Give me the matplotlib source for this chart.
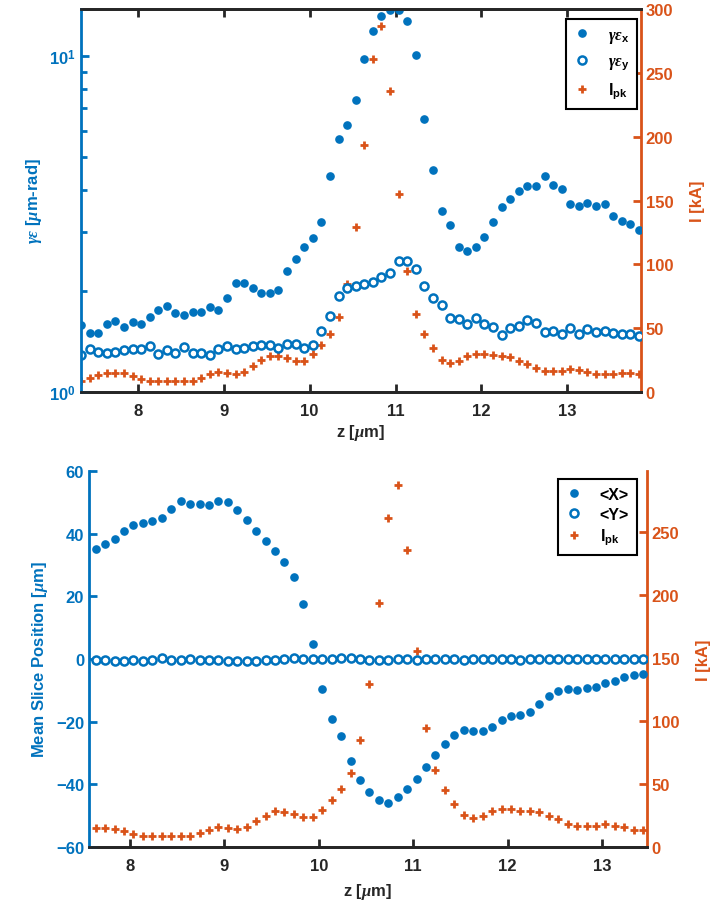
import numpy as np
import matplotlib.pyplot as plt
from matplotlib.ticker import FixedLocator, FixedFormatter, LogLocator, NullFormatter

plt.rcParams['font.family'] = ['Liberation Sans', 'DejaVu Sans']
plt.rcParams['font.weight'] = 'bold'
plt.rcParams['axes.labelweight'] = 'bold'
plt.rcParams['font.size'] = 12
plt.rcParams['mathtext.fontset'] = 'custom'
plt.rcParams['mathtext.rm'] = 'Liberation Sans:bold'
plt.rcParams['mathtext.bf'] = 'Liberation Sans:bold'
plt.rcParams['mathtext.it'] = 'Liberation Serif:italic'

blue = '#0072BD'
orange = '#D95319'
dark = '#262626'

# slice grid (um), 0.1 um spacing
z = 7.336 + 0.1 * np.arange(66)

# slice emittance (um-rad)
gex = [1.58, 1.50, 1.50, 1.59, 1.63, 1.56, 1.62, 1.60, 1.67, 1.76,
       1.80, 1.72, 1.70, 1.73, 1.73, 1.79, 1.75, 1.90, 2.11, 2.11,
       2.04, 1.97, 1.97, 2.01, 2.30, 2.49, 2.70, 2.87, 3.21, 4.39,
       5.69, 6.23, 7.41, 9.80, 11.9, 13.2, 13.8, 13.75, 12.8, 10.1,
       6.53, 4.58, 3.46, 3.14, 2.71, 2.63, 2.70, 2.90, 3.22, 3.55,
       3.76, 3.98, 4.10, 4.10, 4.39, 4.13, 4.04, 3.64, 3.59, 3.65,
       3.58, 3.64, 3.34, 3.24, 3.16, 3.03]
gey = [1.29, 1.34, 1.32, 1.31, 1.32, 1.33, 1.34, 1.34, 1.37, 1.30,
       1.33, 1.31, 1.36, 1.31, 1.31, 1.29, 1.34, 1.37, 1.34, 1.35,
       1.37, 1.38, 1.38, 1.35, 1.39, 1.39, 1.35, 1.38, 1.52, 1.68,
       1.93, 2.04, 2.07, 2.10, 2.13, 2.20, 2.27, 2.45, 2.46, 2.32,
       2.07, 1.90, 1.82, 1.66, 1.65, 1.60, 1.66, 1.59, 1.56, 1.48,
       1.55, 1.57, 1.64, 1.61, 1.51, 1.52, 1.49, 1.55, 1.49, 1.54,
       1.51, 1.52, 1.50, 1.49, 1.49, 1.47]

# peak current (kA)
ipk = [8.8, 10.7, 13.6, 15.1, 14.9, 14.6, 12.8, 10.2, 8.6, 8.6,
       8.6, 8.6, 8.6, 8.6, 11.0, 13.8, 15.7, 15.1, 14.4, 15.9,
       20.6, 24.8, 28.5, 27.9, 26.4, 24.0, 24.0, 29.5, 37.1, 45.7,
       58.5, 84.6, 129.2, 193.4, 260.5, 286.9, 235.4, 155.3, 94.5, 61.3,
       45.2, 34.2, 25.3, 23.0, 24.5, 28.5, 29.8, 29.8, 28.7, 28.5,
       27.4, 24.3, 22.2, 18.5, 16.7, 16.4, 16.4, 18.0, 17.0, 15.9,
       13.8, 13.8, 13.8, 14.6, 14.6, 14.1]

# centroid data only covers part of the bunch
z2 = z[3:62]
ipk2 = ipk[3:62]
xmean = [35.0, 36.8, 38.3, 40.8, 42.7, 43.5, 43.9, 45.0, 47.8, 50.4,
         49.6, 49.5, 49.3, 50.4, 50.2, 47.5, 44.3, 40.7, 37.6, 34.4,
         30.8, 26.2, 17.4, 4.7, -9.5, -19.1, -24.6, -32.4, -38.7, -42.6,
         -45.1, -45.8, -44.2, -41.4, -38.3, -34.6, -30.7, -27.2, -24.3, -22.5,
         -23.0, -23.0, -21.7, -19.6, -18.1, -17.9, -16.8, -14.3, -11.9, -10.3,
         -9.7, -9.8, -9.2, -8.8, -7.5, -7.0, -5.6, -5.2, -4.9]
ymean = [-0.4, -0.2, -0.5, -0.5, -0.2, -0.6, -0.3, 0.2, -0.4, -0.2,
         -0.1, -0.3, -0.2, -0.3, -0.5, -0.6, -0.5, -0.7, -0.4, -0.3,
         0.0, 0.2, -0.1, -0.1, -0.1, 0.1, 0.3, 0.2, -0.1, -0.2,
         -0.3, -0.2, -0.1, 0.0, -0.2, -0.1, 0.1, 0.0, -0.1, -0.2,
         -0.1, 0.0, 0.1, 0.0, -0.1, -0.2, -0.1, 0.0, 0.1, 0.0,
         -0.1, 0.0, 0.1, 0.0, -0.1, 0.0, 0.1, 0.0, 0.0]

fig = plt.figure(figsize=(7.15, 9.03), dpi=100)
ax1 = fig.add_axes([0.1133, 0.5648, 0.7832, 0.4241])
ax3 = fig.add_axes([0.1245, 0.0609, 0.7804, 0.4164])

dot = dict(ls='none', marker='o', ms=5.2, color=blue)
ring = dict(ls='none', marker='o', ms=5.8, mfc='white', mec=blue, mew=1.8)
plus = dict(ls='none', marker='+', ms=6, mew=2.0, color=orange)


def style(ax, axr, box):
    ax.tick_params(axis='x', direction='in', width=2, length=6, colors=dark,
                   top=box, labelsize=12, pad=8)
    ax.tick_params(axis='y', which='both', direction='in', width=2,
                   colors=blue, labelsize=12)
    axr.tick_params(axis='y', direction='in', width=2, length=6,
                    colors=orange, labelsize=12)
    for a in (ax, axr):
        a.spines['bottom'].set_color(dark)
        a.spines['top'].set_color(dark)
        for s in a.spines.values():
            s.set_linewidth(2)
        a.spines['top'].set_visible(box)
    ax.spines['left'].set_color(blue)
    ax.spines['right'].set_visible(False)
    axr.spines['left'].set_visible(False)
    axr.spines['right'].set_color(orange)
    ax.set_zorder(axr.get_zorder() + 1)
    ax.patch.set_visible(False)


def boxed_legend(ax, handles, labels, anchor, spacing):
    leg = ax.legend(handles, labels, loc='upper right', bbox_to_anchor=anchor,
                    borderaxespad=0, fancybox=False, edgecolor='black',
                    framealpha=1, handlelength=1.0, handletextpad=1.1,
                    borderpad=0.5, labelspacing=spacing, fontsize=11.5)
    leg.get_frame().set_linewidth(1.5)
    return leg


# emittance panel
ax2 = ax1.twinx()
h1, = ax1.plot(z, gex, **dot)
h2, = ax1.plot(z, gey, **ring)
h3, = ax2.plot(z, ipk, **plus)
ax1.set_yscale('log')
ax1.set_ylim(1, 13.85)
ax1.set_xlim(7.336, 13.86)
ax1.yaxis.set_major_locator(FixedLocator([1, 10]))
ax1.yaxis.set_major_formatter(FixedFormatter(['10$^0$', '10$^1$']))
ax1.yaxis.set_minor_locator(LogLocator(base=10, subs=np.arange(2, 10)))
ax1.yaxis.set_minor_formatter(NullFormatter())
ax1.tick_params(axis='y', which='major', length=6)
ax1.tick_params(axis='y', which='minor', length=4)
ax2.set_ylim(0, 300)
ax2.set_yticks(np.arange(0, 301, 50))
ax1.set_xticks(np.arange(8, 14))
style(ax1, ax2, True)
ax1.set_xlabel(r'z [$\mu$m]', color=dark, fontsize=12, labelpad=3)
ax1.set_ylabel(r'$\gamma\epsilon$ [$\mu$m-rad]', color=blue, fontsize=12)
ax2.set_ylabel('I [kA]', color=orange, fontsize=12, labelpad=12)
boxed_legend(ax1, [h1, h2, h3],
             [r'$\gamma\epsilon_\mathbf{x}$', r'$\gamma\epsilon_\mathbf{y}$',
              r'I$_\mathbf{pk}$'],
             (0.993, 0.974), 0.55)

# centroid panel
ax4 = ax3.twinx()
h4, = ax3.plot(z2, xmean, **dot)
h5, = ax3.plot(z2, ymean, **ring)
h6, = ax4.plot(z2, ipk2, **plus)
ax3.set_xlim(7.565, 13.477)
ax3.set_ylim(-60, 60)
ax3.set_yticks(np.arange(-60, 61, 20))
ax3.tick_params(axis='y', length=6)
ax4.set_ylim(0, 298)
ax4.set_yticks(np.arange(0, 251, 50))
ax3.set_xticks(np.arange(8, 14))
style(ax3, ax4, False)
ax3.set_xlabel(r'z [$\mu$m]', color=dark, fontsize=12, labelpad=6)
ax3.set_ylabel(r'Mean Slice Position [$\mu$m]', color=blue, fontsize=12)
ax4.set_ylabel('I [kA]', color=orange, fontsize=12, labelpad=12)
boxed_legend(ax3, [h4, h5, h6], ['<X>', '<Y>', r'I$_\mathbf{pk}$'],
             (0.982, 0.979), 0.3)

fig.savefig('out.png', dpi=100)
